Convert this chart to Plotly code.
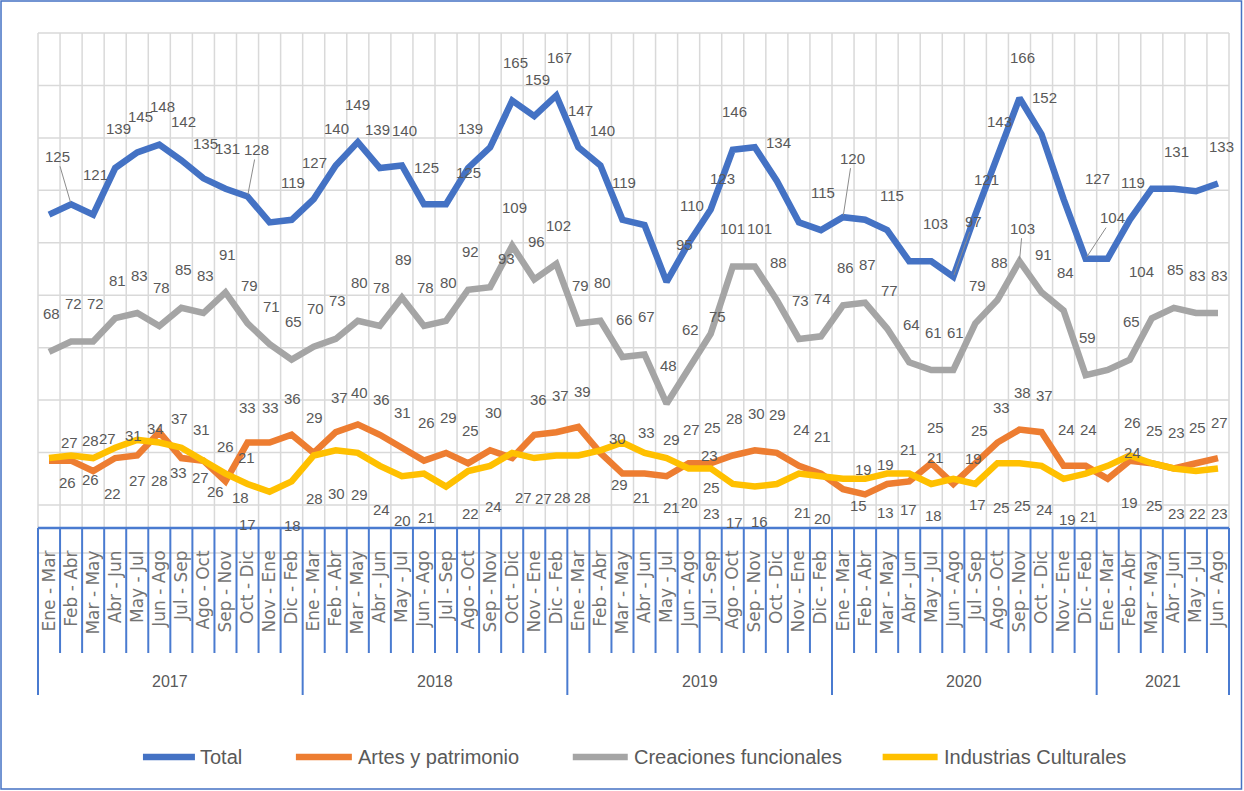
import plotly.graph_objects as go

PERIODS = ["Ene - Mar", "Feb - Abr", "Mar - May", "Abr - Jun", "May - Jul", "Jun - Ago",
           "Jul - Sep", "Ago - Oct", "Sep - Nov", "Oct - Dic", "Nov - Ene", "Dic - Feb"]
YEARS = ["2017", "2018", "2019", "2020", "2021"]
YEAR_COUNTS = [12, 12, 12, 12, 6]

total = [121, 125, 121, 139, 145, 148, 142, 135, 131, 128, 118, 119,
         127, 140, 149, 139, 140, 125, 125, 139, 147, 165, 159, 167,
         147, 140, 119, 117, 95, 110, 123, 146, 147, 134, 118, 115,
         120, 119, 115, 103, 103, 97, 121, 143, 166, 152, 127, 104,
         104, 119, 131, 131, 130, 133]
artes = [26, 26, 22, 27, 28, 37, 27, 26, 18, 33, 33, 36,
         29, 37, 40, 36, 31, 26, 29, 25, 30, 27, 36, 37,
         39, 29, 21, 21, 20, 25, 25, 28, 30, 29, 24, 21,
         15, 13, 17, 18, 25, 17, 25, 33, 38, 37, 24, 24,
         19, 26, 25, 23, 25, 27]
creaciones = [68, 72, 72, 81, 83, 78, 85, 83, 91, 79, 71, 65,
              70, 73, 80, 78, 89, 78, 80, 92, 93, 109, 96, 102,
              79, 80, 66, 67, 48, 62, 75, 101, 101, 88, 73, 74,
              86, 87, 77, 64, 61, 61, 79, 88, 103, 91, 84, 59,
              61, 65, 81, 85, 83, 83]
industrias = [27, 28, 27, 31, 34, 33, 31, 26, 21, 17, 14, 18,
              28, 30, 29, 24, 20, 21, 16, 22, 24, 29, 27, 28,
              28, 30, 33, 29, 27, 23, 23, 17, 16, 17, 21, 20,
              19, 19, 21, 21, 17, 19, 17, 25, 25, 24, 19, 21,
              24, 28, 25, 23, 22, 23]

# data label placement: point index -> (dx, dy) in px from the point; "L" = leader line
LBL_TOTAL = {1: (-14, -48, "L"), 2: (2, -40), 3: (3, -39), 4: (3, -36), 5: (3, -38), 6: (2, -39),
             7: (2, -35), 8: (2, -40), 9: (9, -47, "L"), 11: (1, -37), 12: (1, -37), 13: (1, -37),
             14: (0, -38), 15: (-2, -38), 16: (3, -35), 17: (3, -37), 18: (22, -32), 19: (2, -39),
             21: (3, -38), 22: (3, -37), 23: (3, -38), 24: (2, -37), 25: (2, -35), 26: (2, -37),
             28: (18, -37), 29: (3, -38), 30: (12, -31), 31: (2, -38), 33: (2, -38), 35: (2, -38),
             36: (9, -59, "L"), 38: (5, -35), 40: (4, -38), 41: (20, -55, "L"), 42: (11, -35),
             43: (2, -36), 44: (3, -41), 45: (3, -37), 46: (34, -21), 47: (27, -41, "L"),
             48: (34, 13), 49: (3, -37), 51: (3, -37), 53: (4, -37)}
LBL_CREA = {i: (2, -38) for i in range(54) if i not in (48, 50)}
LBL_CREA.update({20: (16, -29), 30: (7, -17), 31: (0, -38), 32: (5, -38), 44: (3, -33, "L")})
LBL_ARTES = {0: (18, 22), 1: (19, 19), 2: (19, 22), 3: (22, 22), 4: (22, 25), 5: (20, -14),
             6: (19, 19), 7: (12, 31), 8: (15, 16), 9: (0, -35), 10: (1, -35), 11: (1, -36),
             12: (1, -35), 13: (4, -35), 14: (2, -32), 15: (2, -35), 16: (1, -35), 17: (3, -38),
             18: (2, -35), 19: (2, -33), 20: (3, -38), 21: (11, 39), 22: (4, -35), 23: (4, -37),
             24: (4, -35), 25: (19, 32), 26: (19, 24), 27: (27, 34), 28: (23, 26), 29: (24, -36),
             30: (1, 24), 31: (2, -37), 32: (2, -37), 33: (1, -38), 34: (3, -36), 35: (2, -37),
             36: (15, 16), 37: (20, 18), 38: (21, 26), 39: (24, 34), 40: (4, -36), 42: (4, -33),
             43: (4, -35), 44: (3, -37), 45: (3, -37), 46: (3, -36), 47: (3, -36), 48: (22, 24),
             49: (3, -38), 50: (3, -33), 51: (3, -36), 52: (2, -36), 53: (2, -36)}
LBL_IND = {0: (20, -16), 1: (19, -15), 2: (14, -20), 3: (18, -12), 4: (18, -11), 5: (19, 30),
           6: (20, -18), 7: (22, -14), 8: (21, -16), 9: (0, 41), 11: (1, 44), 12: (1, 43),
           13: (1, 43), 14: (2, 42), 15: (2, 44), 16: (1, 44), 17: (3, 44), 19: (2, 42),
           20: (3, 41), 22: (9, 40), 23: (6, 42), 24: (4, 42), 25: (17, -12), 26: (24, -10),
           27: (27, -13), 28: (25, -29), 29: (21, -13), 30: (1, 45), 31: (2, 39), 32: (5, 35),
           34: (4, 39), 35: (2, 42), 36: (20, -9), 37: (20, -14), 38: (21, -24), 39: (26, -16),
           41: (20, -20), 42: (2, 21), 43: (4, 44), 44: (3, 42), 45: (3, 44), 46: (4, 41),
           47: (3, 43), 48: (25, -13), 50: (3, 42), 51: (3, 45), 52: (2, 42), 53: (2, 45)}

SERIES = [
    ("Total", total, "#4472C4", LBL_TOTAL),
    ("Artes y patrimonio", artes, "#ED7D31", LBL_ARTES),
    ("Creaciones funcionales", creaciones, "#A5A5A5", LBL_CREA),
    ("Industrias Culturales", industrias, "#FFC000", LBL_IND),
]

W, H = 1244, 791
PL, PR, PT, PB = 38, 1229.5, 33, 528      # plot area in px
FONT = "Liberation Sans, Arial, sans-serif"
AXIS_BLUE = "#4A7BD0"
GRID = "#D9D9D9"
TXT = "#595959"

n = len(total)
x = list(range(n))
ticktext = [p for c in YEAR_COUNTS for p in PERIODS[:c]]


def px(X):
    return (X - PL) / (PR - PL)


def py(Y):
    return (PB - Y) / (PB - PT)


fig = go.Figure()
for name, vals, color, _ in SERIES:
    fig.add_trace(go.Scatter(
        x=x, y=vals, name=name, mode="lines",
        line=dict(color=color, width=6.5),
        showlegend=False,
        hovertemplate="%{y}<extra>" + name + "</extra>",
    ))

annotations = []
for name, vals, color, labels in SERIES:
    for i, pos in labels.items():
        dx, dy = pos[0], pos[1]
        a = dict(x=i, y=vals[i], xref="x", yref="y", text=str(vals[i]),
                 font=dict(family=FONT, size=15, color=TXT))
        if len(pos) > 2:
            a.update(showarrow=True, ax=dx, ay=dy, arrowhead=0, arrowwidth=1,
                     arrowcolor="#8C8C8C", standoff=2)
        else:
            a.update(showarrow=False, xshift=dx, yshift=-dy)
        annotations.append(a)

# year labels under the period labels
start = 0
for yr, c in zip(YEARS, YEAR_COUNTS):
    annotations.append(dict(x=start + (c - 1) / 2, y=py(681), xref="x", yref="paper",
                            yanchor="middle", text=yr, showarrow=False,
                            font=dict(family=FONT, size=16, color=TXT)))
    start += c

shapes = []
# worksheet cell grid behind the chart
for b in range(n + 1):
    shapes.append(dict(type="line", xref="paper", yref="paper", layer="below",
                       x0=b / n, x1=b / n, y0=py(528), y1=py(33),
                       line=dict(color=GRID, width=1.5)))
for Y in [33 + 52.44 * k for k in range(10)] + [553]:
    shapes.append(dict(type="line", xref="paper", yref="paper", layer="below",
                       x0=0, x1=1, y0=py(Y), y1=py(Y),
                       line=dict(color=GRID, width=1.5)))

# category axis: line, period dividers, year dividers
shapes.append(dict(type="line", xref="paper", yref="paper", x0=0, x1=1, y0=0, y1=0,
                   line=dict(color=AXIS_BLUE, width=2.5)))
edges = {0}
s = 0
for c in YEAR_COUNTS:
    s += c
    edges.add(s)
for b in range(n + 1):
    bottom = 695 if b in edges else 653
    shapes.append(dict(type="line", xref="paper", yref="paper",
                       x0=b / n, x1=b / n, y0=0, y1=py(bottom),
                       line=dict(color=AXIS_BLUE, width=2)))

# legend
LEG_Y = 757
for (name, _, color, _), (x0, x1, tx) in zip(
        SERIES, [(143, 195, 198), (296, 352, 356), (573, 628, 632), (883, 938, 942)]):
    shapes.append(dict(type="line", xref="paper", yref="paper",
                       x0=px(x0), x1=px(x1), y0=py(LEG_Y), y1=py(LEG_Y),
                       line=dict(color=color, width=6.5)))
    annotations.append(dict(x=px(tx), y=py(LEG_Y), xref="paper", yref="paper",
                            xanchor="left", yanchor="middle", text=name, showarrow=False,
                            font=dict(family=FONT, size=20, color=TXT)))

# outer frame
shapes.append(dict(type="rect", xref="paper", yref="paper",
                   x0=px(1), x1=px(W - 2), y0=py(H - 2), y1=py(1),
                   line=dict(color="#4472C4", width=1.5)))

fig.update_layout(
    width=W, height=H,
    margin=dict(l=PL, r=W - PR, t=PT, b=H - PB, pad=0),
    paper_bgcolor="white", plot_bgcolor="rgba(0,0,0,0)",
    showlegend=False,
    xaxis=dict(range=[-0.5, n - 0.5], tickmode="array", tickvals=x, ticktext=ticktext,
               tickangle=-90, ticks="", ticklabelstandoff=18,
               tickfont=dict(family="DejaVu Sans", size=17, color="#737373"),
               showgrid=False, zeroline=False, showline=False, fixedrange=True),
    yaxis=dict(range=[0, (PB - PT) / 2.59], visible=False, fixedrange=True),
    shapes=shapes,
    annotations=annotations,
)

fig.write_html("out.html", config={"displayModeBar": False},
               post_script="document.body.style.margin='0';")
